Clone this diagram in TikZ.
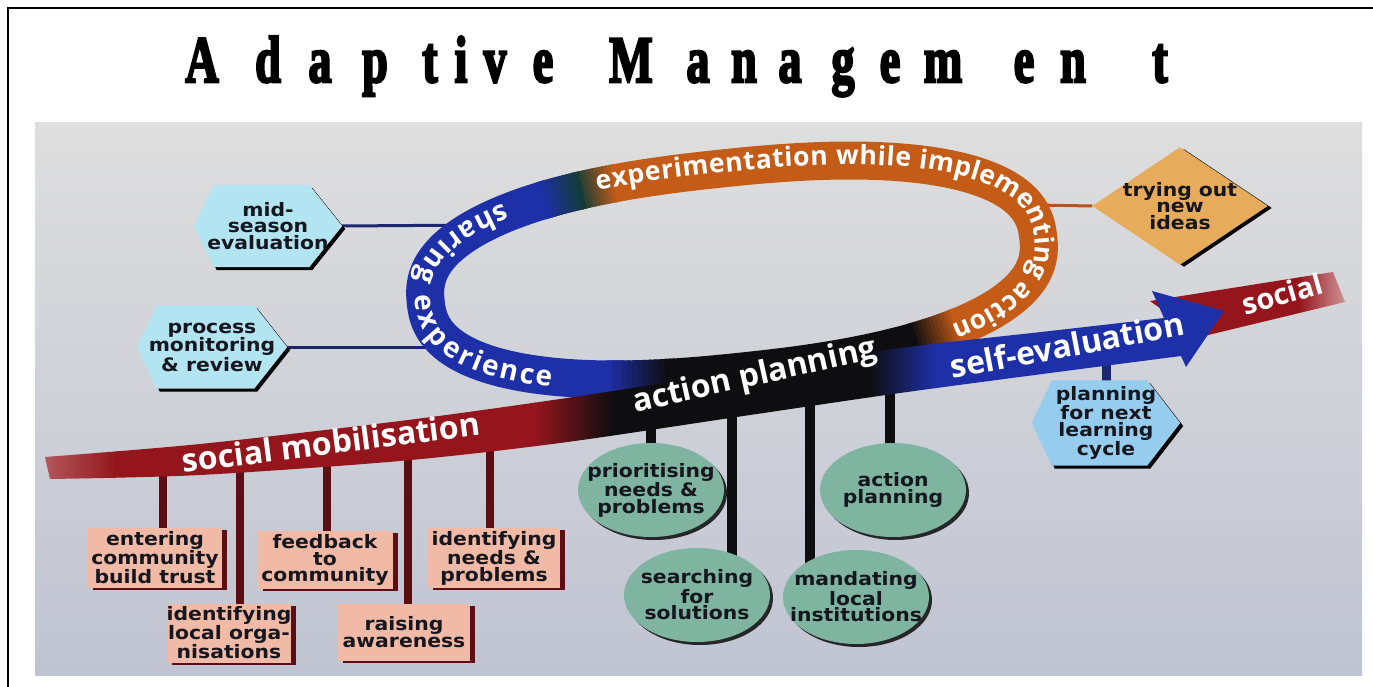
\documentclass[tikz,border=0pt]{standalone}
\usepackage{fontspec}
\usetikzlibrary{shadows,decorations.text}
\newfontfamily\titlefont{Liberation Serif}[FakeBold=4]
\newfontfamily\boxfont{DejaVu Sans}[FakeStretch=1.1]
\newfontfamily\ringfont{Open Sans}
\newcommand\ringtxt{\ringfont\bfseries\fontsize{26.5}{30}\selectfont}
\newcommand\ringtxtb{\ringfont\bfseries\fontsize{28}{30}\selectfont}
\newcommand\bandtxt{\ringfont\bfseries\fontsize{32}{34}\selectfont}
\definecolor{bandred}{RGB}{148,22,28}
\definecolor{ringblue}{RGB}{30,48,168}
\definecolor{ringorange}{RGB}{196,92,24}
\definecolor{darkteal}{RGB}{20,60,55}
\definecolor{nearblack}{RGB}{14,14,16}
\definecolor{hexcyan}{RGB}{178,228,242}
\definecolor{hexblue}{RGB}{150,205,238}
\definecolor{diamtan}{RGB}{230,172,92}
\definecolor{pinkbox}{RGB}{240,186,166}
\definecolor{maroonc}{RGB}{92,14,20}
\definecolor{sage}{RGB}{126,180,160}
\definecolor{navy}{RGB}{28,38,112}
\definecolor{panelTop}{RGB}{222,222,222}
\definecolor{panelBot}{RGB}{192,196,210}
\definecolor{linkorange}{RGB}{180,85,30}
\definecolor{inktext}{RGB}{22,22,30}
\pgfdeclarelayer{panel}
\pgfdeclarelayer{conn}
\pgfdeclarelayer{ringlayer}
\pgfdeclarelayer{shapes}
\pgfsetlayers{panel,conn,ringlayer,shapes,main}
\newcommand\ringgrad[4]{%
  \foreach \k in {0,...,11}{%
    \pgfmathsetmacro\pa{#1+(#2-#1)*\k/12}%
    \pgfmathsetmacro\pb{#1+(#2-#1)*(\k+1.6)/12}%
    \pgfmathtruncatemacro\pp{100-100*\k/11}%
    \draw[ringstroke, draw=#3!\pp!#4] plot[domain=\pa:\pb, samples=3] ({rx(\x)},{ry(\x)});%
  }}
\newcommand\hexfill[4]{%
  \fill[#4, hexshadow] (#1.west) -- ([xshift=#2]#1.north west) -- ([xshift=-#3]#1.north east) -- (#1.east) -- ([xshift=-#3]#1.south east) -- ([xshift=#2]#1.south west) -- cycle;}
\tikzset{
  ringstroke/.style={line width=38pt, line cap=butt},
  titlech/.style={font=\titlefont\bfseries\fontsize{66}{66}\selectfont, xscale=0.7, anchor=base, inner sep=0pt},
  boxtxt/.style={font=\boxfont\bfseries\fontsize{18.5}{16.8}\selectfont, align=center, text=inktext, inner sep=0pt},
  bandtext/.style={font=\bandtxt, text=white, inner sep=0pt},
  hexshadow/.style={drop shadow={shadow xshift=3pt, shadow yshift=-3pt, opacity=1, fill=black}},
  diamshadow/.style={drop shadow={shadow xshift=4pt, shadow yshift=-2pt, opacity=1, fill=black}},
  ellshadow/.style={drop shadow={shadow xshift=3pt, shadow yshift=-3pt, opacity=1, fill=black!85}},
  pinkbox/.style={boxtxt, fill=pinkbox, drop shadow={shadow xshift=5pt, shadow yshift=-2pt, opacity=1, fill=maroonc}},
  navyline/.style={draw=navy, line width=3pt},
  maroonstem/.style={draw=maroonc, line width=8pt},
  blackstem/.style={draw=nearblack, line width=10pt},
}
\begin{document}
\begin{tikzpicture}[x=1pt,y=-1pt,
  declare function={
    sx(\t)=cos(\t)*(abs(cos(\t))+0.0001)^(-0.167);
    sy(\t)=sin(\t)*(abs(sin(\t))+0.0001)^(-0.167);
    rx(\t)=732+306.3*sx(\t)-10.66*sy(\t);
    ry(\t)=270-32.19*sx(\t)-101.45*sy(\t);}]
\useasboundingbox (0,0) rectangle (1373,687);
\begin{pgfonlayer}{panel}
  \fill[white] (0,0) rectangle (1373,687);
  \draw[line width=2.5pt] (8,690) -- (8,8) -- (1376,8);
  \shade[top color=panelTop, bottom color=panelBot] (35,123) rectangle (1362,675);
\end{pgfonlayer}
% title
\foreach \ch/\xx [count=\i] in {A/202,d/268,a/320,p/375,t/430,i/461,v/495,e/543,M/631,a/698,n/744,a/790,g/843,e/890,m/943,e/1024,n/1073,t/1160}
  \node[titlech] (title\i) at (\xx,82) {\ch};
% ---------------- nodes (text) ----------------
\node[boxtxt, minimum width=148pt, minimum height=82pt] (hex1) at (268,226) {mid-\\season\\evaluation};
\node[boxtxt, minimum width=150pt, minimum height=83pt] (hex2) at (212,347) {process\\monitoring\\\& review};
\node[boxtxt, minimum width=148pt, minimum height=85pt] (plan) at (1106,423) {planning\\for next\\learning\\cycle};
\node[boxtxt, minimum width=175pt, minimum height=117pt] (diam) at (1180,206) {trying out\\new\\ideas};
\node[pinkbox, minimum width=134pt, minimum height=60pt] (b1) at (155,558) {entering\\community\\build trust};
\node[pinkbox, minimum width=124pt, minimum height=59pt] (b2) at (229,633) {identifying\\local orga-\\nisations};
\node[pinkbox, minimum width=135pt, minimum height=58pt] (b3) at (325,560) {feedback\\to\\community};
\node[pinkbox, minimum width=132pt, minimum height=57pt] (b4) at (404,632) {raising\\awareness};
\node[pinkbox, minimum width=132pt, minimum height=60pt] (b5) at (494,558) {identifying\\needs \&\\problems};
\node[boxtxt, minimum width=146pt, minimum height=94pt] (e1) at (651,490) {prioritising\\needs \&\\problems};
\node[boxtxt, minimum width=146pt, minimum height=94pt] (e2) at (697,595) {searching\\for\\solutions};
\node[boxtxt, minimum width=146pt, minimum height=94pt] (e3) at (856,597) {mandating\\local\\institutions};
\node[boxtxt, minimum width=146pt, minimum height=94pt] (e4) at (893,490) {action\\planning};
% ---------------- shapes ----------------
\begin{pgfonlayer}{shapes}
  \hexfill{hex1}{20pt}{33pt}{hexcyan}
  \hexfill{hex2}{20pt}{33pt}{hexcyan}
  \hexfill{plan}{20pt}{33pt}{hexblue}
  \fill[diamtan, diamshadow] (diam.west) -- (diam.north) -- (diam.east) -- (diam.south) -- cycle;
  \foreach \e in {e1,e2,e3,e4}
    \fill[sage, ellshadow] (\e.center) ellipse [x radius=73pt, y radius=47pt];
\end{pgfonlayer}
% ---------------- connectors ----------------
\coordinate (rc1) at (485,225);
\coordinate (rc2) at (455,347);
\coordinate (rc3) at (1035,205);
\coordinate (ps) at (1106,345);
\coordinate (s1) at (163,462);
\coordinate (s2) at (240,455);
\coordinate (s3) at (327,447);
\coordinate (s4) at (408,438);
\coordinate (s5) at (490,428);
\coordinate (g1) at (651,400);
\coordinate (g2) at (732,390);
\coordinate (g3) at (810,378);
\coordinate (g4) at (890,366);
\begin{pgfonlayer}{conn}
  \draw[navyline] (hex1.east) -- (rc1);
  \draw[navyline] (hex2.east) -- (rc2);
  \draw[draw=linkorange, line width=3pt] (rc3) -- (diam.west);
  \draw[draw=navy, line width=9pt] (ps) -- (ps |- plan.center);
  \draw[maroonstem] (s1) -- (s1 |- b1.center);
  \draw[maroonstem] (s2) -- (s2 |- b2.center);
  \draw[maroonstem] (s3) -- (s3 |- b3.center);
  \draw[maroonstem] (s4) -- (s4 |- b4.center);
  \draw[maroonstem] (s5) -- (s5 |- b5.center);
  \draw[blackstem] (g1) -- (g1 |- e1.center);
  \draw[blackstem] (g2) -- (g2 |- e2.center);
  \draw[blackstem] (g3) -- (g3 |- e3.center);
  \draw[blackstem] (g4) -- (g4 |- e4.center);
\end{pgfonlayer}
% ---------------- ring and band ----------------
\begin{pgfonlayer}{ringlayer}
  \draw[ringstroke, draw=ringblue] plot[domain=120:251, samples=90, smooth] ({rx(\x)},{ry(\x)});
  \draw[ringstroke, draw=ringorange] plot[domain=-49:107, samples=110, smooth] ({rx(\x)},{ry(\x)});
  \draw[ringstroke, draw=nearblack] plot[domain=-101:-59, samples=24, smooth] ({rx(\x)},{ry(\x)});
  \ringgrad{-112}{-100}{ringblue}{nearblack}
  \ringgrad{-60}{-48}{nearblack}{ringorange}
  \ringgrad{106}{114}{ringorange}{darkteal}
  \ringgrad{113}{122}{darkteal}{ringblue}
  \path[decorate, decoration={text along path, text={|\ringtxt|experimentation while implementing action}, text align={fit to path}, text color=white, raise=-4pt}]
    plot[domain=0:160, samples=90] ({rx(110-\x)},{ry(110-\x)});
  \path[decorate, decoration={text along path, text={|\ringtxtb|sharing experience}, text align={fit to path}, text color=white, raise=-10pt}]
    plot[domain=131:236, samples=60] ({rx(\x)},{ry(\x)});
  % right social band
  \begin{scope}
    \clip (1150,301) -- (1333,272) -- (1345,302) -- (1200,337) -- cycle;
    \fill[bandred] (1140,260) rectangle (1300,345);
    \shade[left color=bandred, right color=bandred!40!white] (1299,260) rectangle (1350,345);
  \end{scope}
  % main band
  \begin{scope}
    \clip plot[smooth] coordinates {(45,457) (200,444) (400,421) (560,399) (750,370) (900,348) (1050,331) (1164,318)}
      -- (1152,291) -- (1224,311) -- (1186,367) -- (1181,356)
      -- plot[smooth] coordinates {(1181,356) (1050,373) (900,393) (750,415) (560,443) (400,461) (200,475) (50,479)} -- cycle;
    \shade[left color=bandred!70!white, right color=bandred] (40,280) rectangle (116,490);
    \fill[bandred] (115,280) rectangle (536,490);
    \shade[left color=bandred, right color=nearblack] (535,280) rectangle (612,490);
    \fill[nearblack] (611,280) rectangle (871,490);
    \shade[left color=nearblack, right color=ringblue] (870,280) rectangle (936,490);
    \fill[ringblue] (935,280) rectangle (1240,490);
  \end{scope}
  \node[bandtext, rotate=7.3] (tsm) at (331,442) {social mobilisation};
  \node[bandtext, rotate=12.6] (tap) at (755,377) {action planning};
  \node[bandtext, rotate=10.7] (tse) at (1067,345) {self-evaluation};
  \node[bandtext, rotate=16, font=\ringfont\bfseries\fontsize{29}{30}\selectfont] (tso) at (1282,294) {social};
\end{pgfonlayer}
\end{tikzpicture}
\end{document}
